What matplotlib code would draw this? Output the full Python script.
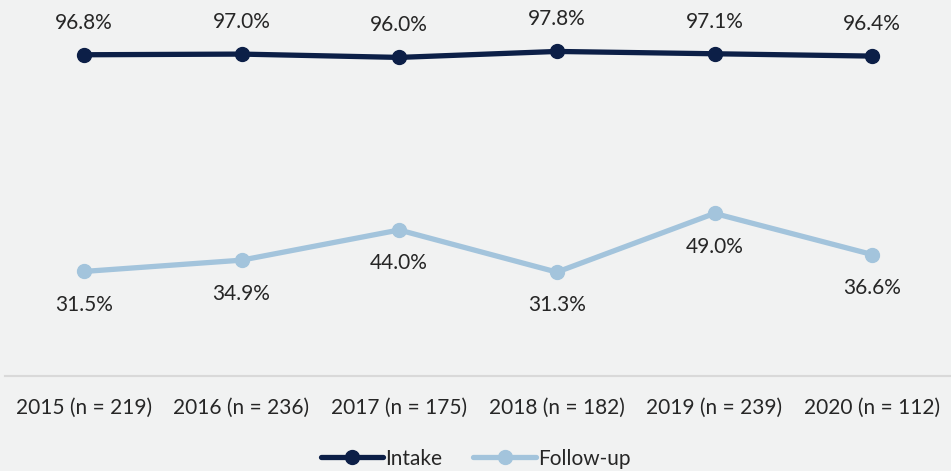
import matplotlib.pyplot as plt

plt.rcParams['font.family'] = ['Lato', 'DejaVu Sans']

years = ['2015 (n = 219)', '2016 (n = 236)', '2017 (n = 175)',
         '2018 (n = 182)', '2019 (n = 239)', '2020 (n = 112)']
intake = [96.8, 97.0, 96.0, 97.8, 97.1, 96.4]
follow_up = [31.5, 34.9, 44.0, 31.3, 49.0, 36.6]

bg = '#f1f2f2'
navy = '#0c1f47'
light = '#a3c4dc'
txt = '#262626'

fig = plt.figure(figsize=(9.51, 4.71), dpi=100, facecolor=bg)
ax = fig.add_axes([5 / 951, 95 / 471, 946 / 951, 376 / 471])
ax.set_facecolor(bg)

x = range(len(years))
ax.plot(x, intake, color=navy, lw=3.8, marker='o', ms=10, label='Intake', solid_capstyle='round')
ax.plot(x, follow_up, color=light, lw=3.8, marker='o', ms=10, label='Follow-up', solid_capstyle='round')

for i, v in enumerate(intake):
    ax.annotate(f'{v:.1f}%', (i, v), xytext=(0, 23), textcoords='offset points',
                ha='center', va='center', fontsize=15, color=txt)
for i, v in enumerate(follow_up):
    ax.annotate(f'{v:.1f}%', (i, v), xytext=(0, -24), textcoords='offset points',
                ha='center', va='center', fontsize=15, color=txt)

ax.set_xlim(-0.5, len(years) - 0.5)
ax.set_ylim(0, 113.3)
ax.set_xticks(list(x))
ax.set_xticklabels(years, fontsize=15, color=txt)
ax.tick_params(axis='x', length=0, pad=16)
ax.set_yticks([])
for s in ['top', 'left', 'right']:
    ax.spines[s].set_visible(False)
ax.spines['bottom'].set_color('#d9d9d9')
ax.spines['bottom'].set_linewidth(1.5)

fig.legend(loc='lower center', ncol=2, frameon=False, fontsize=15,
           bbox_to_anchor=(0.5, -0.035), handlelength=3.0, handletextpad=0.1,
           columnspacing=1.5, labelcolor=txt)

fig.savefig('out.png', dpi=100, facecolor=bg)
